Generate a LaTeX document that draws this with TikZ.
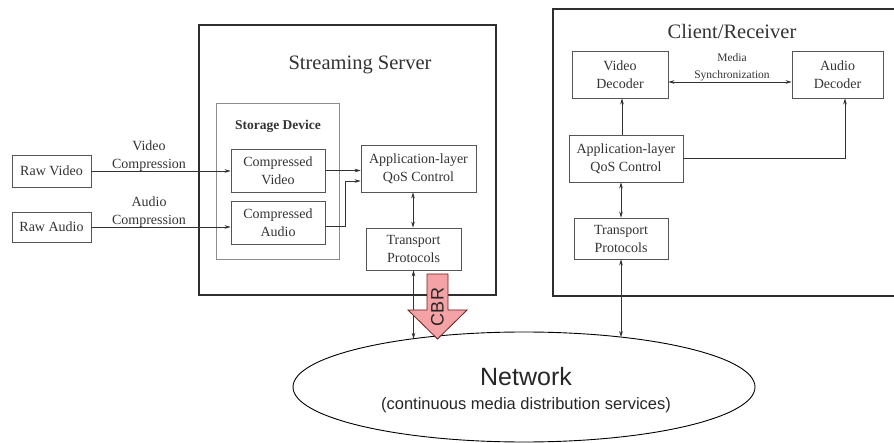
\documentclass[tikz,border=0pt]{standalone}
\usepackage{fontspec}
\setmainfont{Liberation Serif}
\newfontfamily\helv{Liberation Sans}
\usetikzlibrary{arrows.meta,shapes.geometric}
\definecolor{ink}{HTML}{333333}
\definecolor{boxline}{HTML}{555555}
\definecolor{frameline}{HTML}{2E2E2E}
\definecolor{storeline}{HTML}{8C8C8C}
\definecolor{cbrfill}{HTML}{F4A2A6}
\definecolor{cbrline}{HTML}{6E1E1E}
\tikzset{
  txt/.style={font=\fontsize{14}{18}\selectfont, text=ink, align=center},
  blk/.style={draw=boxline, line width=0.8pt, inner sep=0pt, txt},
  frame/.style={draw=frameline, line width=1.3pt},
  conn/.style={draw=ink, line width=0.6pt},
  arr/.style={conn, -{Stealth[length=6pt,width=3.6pt]}},
  darr/.style={conn, {Stealth[length=6pt,width=3.6pt]}-{Stealth[length=6pt,width=3.6pt]}},
}
\begin{document}
\begin{tikzpicture}[x=1pt,y=-1pt]
\useasboundingbox (0,0) rectangle (894,443);

% outer frames
\draw[frame] (199,25) rectangle (496,295);
\draw[frame] (553,9) rectangle (906,296);
\node[txt, font=\fontsize{20.5}{24}\selectfont] (srvtitle) at (360,65) {Streaming Server};
\node[txt, font=\fontsize{20.5}{24}\selectfont] (clttitle) at (732,31) {Client/Receiver};

% storage group
\draw[draw=storeline, line width=0.8pt] (216,103) rectangle (339,259);
\node[txt, font=\fontsize{13.5}{16}\bfseries] (storage) at (278,126) {Storage Device};

% source boxes
\node[blk, minimum width=79pt, minimum height=32pt] (rawv) at (51.5,171) {Raw Video};
\node[blk, minimum width=79pt, minimum height=30pt] (rawa) at (51.5,227) {Raw Audio};

% server side
\node[blk, minimum width=94pt, minimum height=43pt] (cvid) at (278,170.5) {Compressed\\Video};
\node[blk, minimum width=94pt, minimum height=43pt] (caud) at (278,222.5) {Compressed\\Audio};
\node[blk, minimum width=115pt, minimum height=47pt] (sapp) at (418.5,168.5) {Application-layer\\QoS Control};
\node[blk, minimum width=95pt, minimum height=42pt] (strans) at (413.5,249) {Transport\\Protocols};

% client side
\node[blk, minimum width=96pt, minimum height=47pt] (vdec) at (620,74.5) {Video\\Decoder};
\node[blk, minimum width=91pt, minimum height=47pt] (adec) at (837.5,74.5) {Audio\\Decoder};
\node[blk, minimum width=114pt, minimum height=47pt] (capp) at (626,158.5) {Application-layer\\QoS Control};
\node[blk, minimum width=94pt, minimum height=41pt] (ctrans) at (621,238.5) {Transport\\Protocols};

% network
\node[draw=black, line width=0.9pt, ellipse, minimum width=462pt, minimum height=110pt, inner sep=0pt] (net) at (524,387) {};
\node[font=\helv\fontsize{25}{28}\selectfont, text=black!85] (netname) at (526,377) {Network};
\node[font=\helv\fontsize{16.5}{20}\selectfont, text=black!85] (netsub) at (526,405) {(continuous media distribution services)};
\coordinate (snet) at (413.5,338.7);
\coordinate (cnet) at (621,337.1);

% compression paths
\draw[arr] (rawv.east) -- (rawv.east -| cvid.west);
\draw[arr] (rawa.east) -- (rawa.east -| caud.west);
\node[txt] (vcomp) at (149,156) {Video\\Compression};
\node[txt] (acomp) at (149,212) {Audio\\Compression};

% server connectors
\draw[arr] (cvid.east) -- (cvid.east -| sapp.west);
\draw[arr] ([yshift=-4pt]caud.east) -- ++(20,0) |- ([yshift=-12.5pt]sapp.west);
\draw[darr] (strans.north -| 413,0) -- (sapp.south -| 413,0);
\draw[darr] (strans.south) -- (snet);

% client connectors
\draw[darr] ([yshift=-7.5pt]vdec.east) -- ([yshift=-7.5pt]adec.west);
\node[txt, font=\fontsize{11.5}{17}\selectfont] (sync) at (732,67) {Media\\Synchronization};
\draw[arr] (capp.north -| 622,0) -- (vdec.south -| 622,0);
\draw[arr] (capp.east) -| ([xshift=7.5pt]adec.south);
\draw[darr] (ctrans.north) -- (ctrans.north |- capp.south);
\draw[darr] (ctrans.south) -- (cnet);

% constant bit rate arrow
\draw[fill=cbrfill, draw=cbrline, line width=0.8pt, line join=miter]
  (427,274) -- (448,274) -- (448,310) -- (467,310) -- (437.5,339)
  -- (408,310) -- (427,310) -- cycle;
\node[font=\helv\fontsize{18}{20}\selectfont, text=black!85, rotate=90] (cbr) at (437.5,307) {CBR};
\end{tikzpicture}
\end{document}
